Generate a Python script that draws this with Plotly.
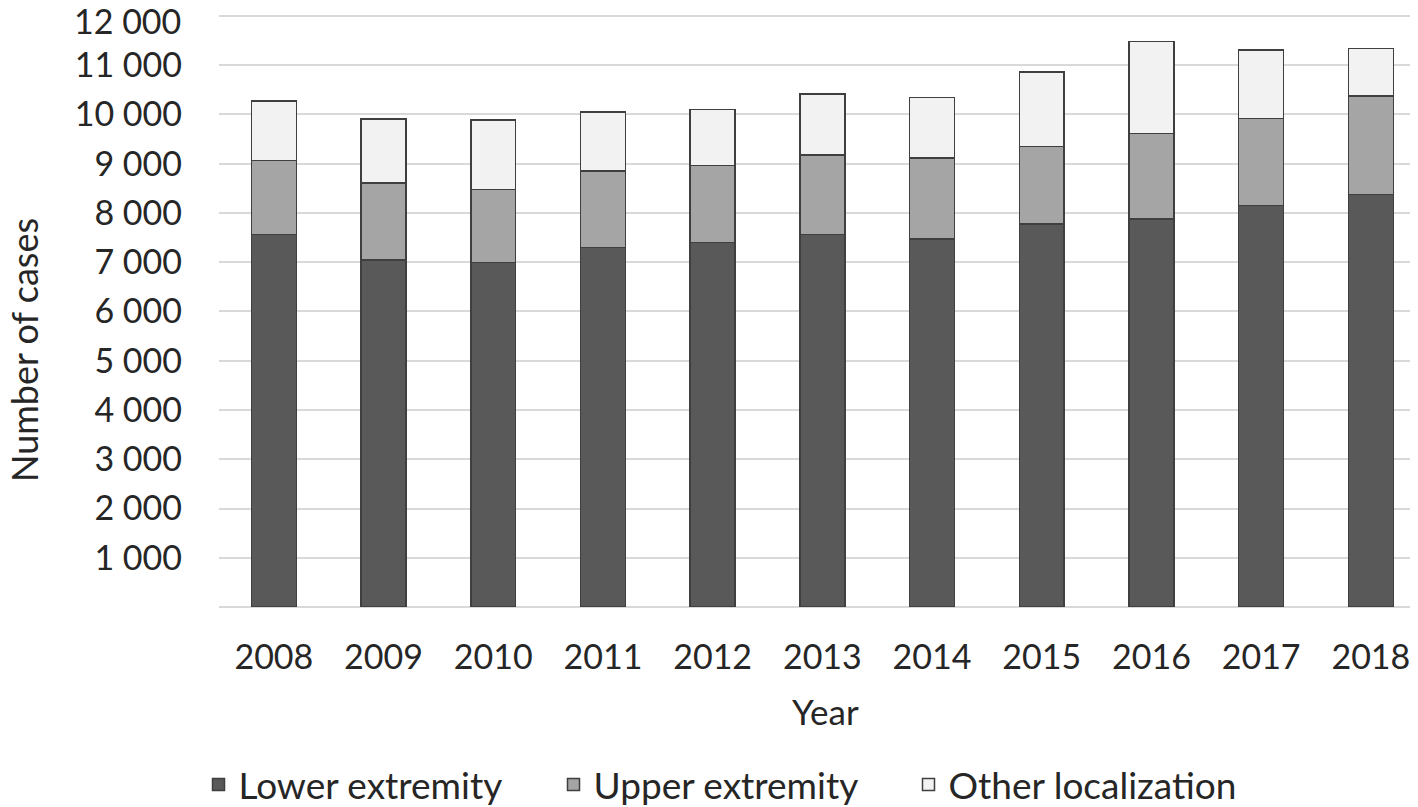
import plotly.graph_objects as go

years = ["2008", "2009", "2010", "2011", "2012", "2013", "2014", "2015", "2016", "2017", "2018"]
lower_extremity = [7560, 7050, 6990, 7300, 7400, 7560, 7470, 7780, 7880, 8150, 8380]
upper_extremity = [1510, 1560, 1490, 1550, 1560, 1620, 1650, 1570, 1730, 1770, 2000]
other_localization = [1200, 1300, 1410, 1200, 1140, 1240, 1220, 1510, 1870, 1390, 960]

y_tickvals = [0, 1000, 2000, 3000, 4000, 5000, 6000, 7000, 8000, 9000, 10000, 11000, 12000]
y_ticktext = ["", "1 000", "2 000", "3 000", "4 000", "5 000", "6 000", "7 000",
              "8 000", "9 000", "10 000", "11 000", "12 000"]

FONT = "Lato, Open Sans, sans-serif"
TXT = "#262626"
edge = dict(color="#3f3f3f", width=1.5)

# figure is drawn inside the page's 8px body margin
W, H = 1402, 799
L, R, T, B = 211, 0, 6, 200
PW, PH = W - L - R, H - T - B
PLOT_BOTTOM = H - B
STEP = 109.7  # px per category

fig = go.Figure()
fig.add_trace(go.Bar(x=years, y=lower_extremity, name="Lower extremity",
                     marker=dict(color="#595959", line=edge), width=0.41))
fig.add_trace(go.Bar(x=years, y=upper_extremity, name="Upper extremity",
                     marker=dict(color="#a5a5a5", line=edge), width=0.41))
fig.add_trace(go.Bar(x=years, y=other_localization, name="Other localization",
                     marker=dict(color="#f2f2f2", line=edge), width=0.41))

# top tick label is drawn as an annotation nudged down so it stays inside the page
top_label = y_ticktext[-1]
axis_ticktext = y_ticktext[:-1] + [""]

fig.update_layout(
    barmode="stack",
    width=W, height=H,
    margin=dict(l=L, r=R, t=T, b=B, autoexpand=False),
    paper_bgcolor="white", plot_bgcolor="white",
    font=dict(family=FONT, size=34, color=TXT),
    legend=dict(orientation="h", xref="container", yref="container",
                x=723 / W, y=(H - 777) / H, xanchor="center", yanchor="middle",
                font=dict(size=37, color=TXT), traceorder="normal",
                itemwidth=30, entrywidth=310),
    xaxis=dict(type="category", range=[-0.5, -0.5 + PW / STEP], showgrid=False,
               showline=False, ticks="", ticklabelstandoff=27, automargin=False,
               ticklabeloverflow="allow",
               tickfont=dict(size=34, color=TXT)),
    yaxis=dict(range=[0, 12040], tickvals=y_tickvals, ticktext=axis_ticktext,
               showgrid=True, gridcolor="#d9d9d9", gridwidth=2,
               zeroline=True, zerolinecolor="#d9d9d9", zerolinewidth=2,
               showline=False, ticks="", ticklabelstandoff=36, automargin=False,
               ticklabeloverflow="allow",
               tickfont=dict(size=34, color=TXT)),
    annotations=[
        dict(text=top_label, xref="paper", yref="y", x=0, y=y_tickvals[-1],
             xanchor="right", yanchor="middle", xshift=-36, yshift=-5,
             showarrow=False, font=dict(size=34, color=TXT)),
        dict(text="Number of cases", xref="paper", yref="paper",
             x=(16 - L) / PW, y=(PLOT_BOTTOM - 342) / PH, textangle=-90,
             showarrow=False, xanchor="center", yanchor="middle",
             font=dict(size=36, color=TXT)),
        dict(text="Year", xref="paper", yref="paper",
             x=(817 - L) / PW, y=-(703 - PLOT_BOTTOM) / PH,
             showarrow=False, xanchor="center", yanchor="middle",
             font=dict(size=35, color=TXT)),
    ],
)

fig.write_html("out.html")
